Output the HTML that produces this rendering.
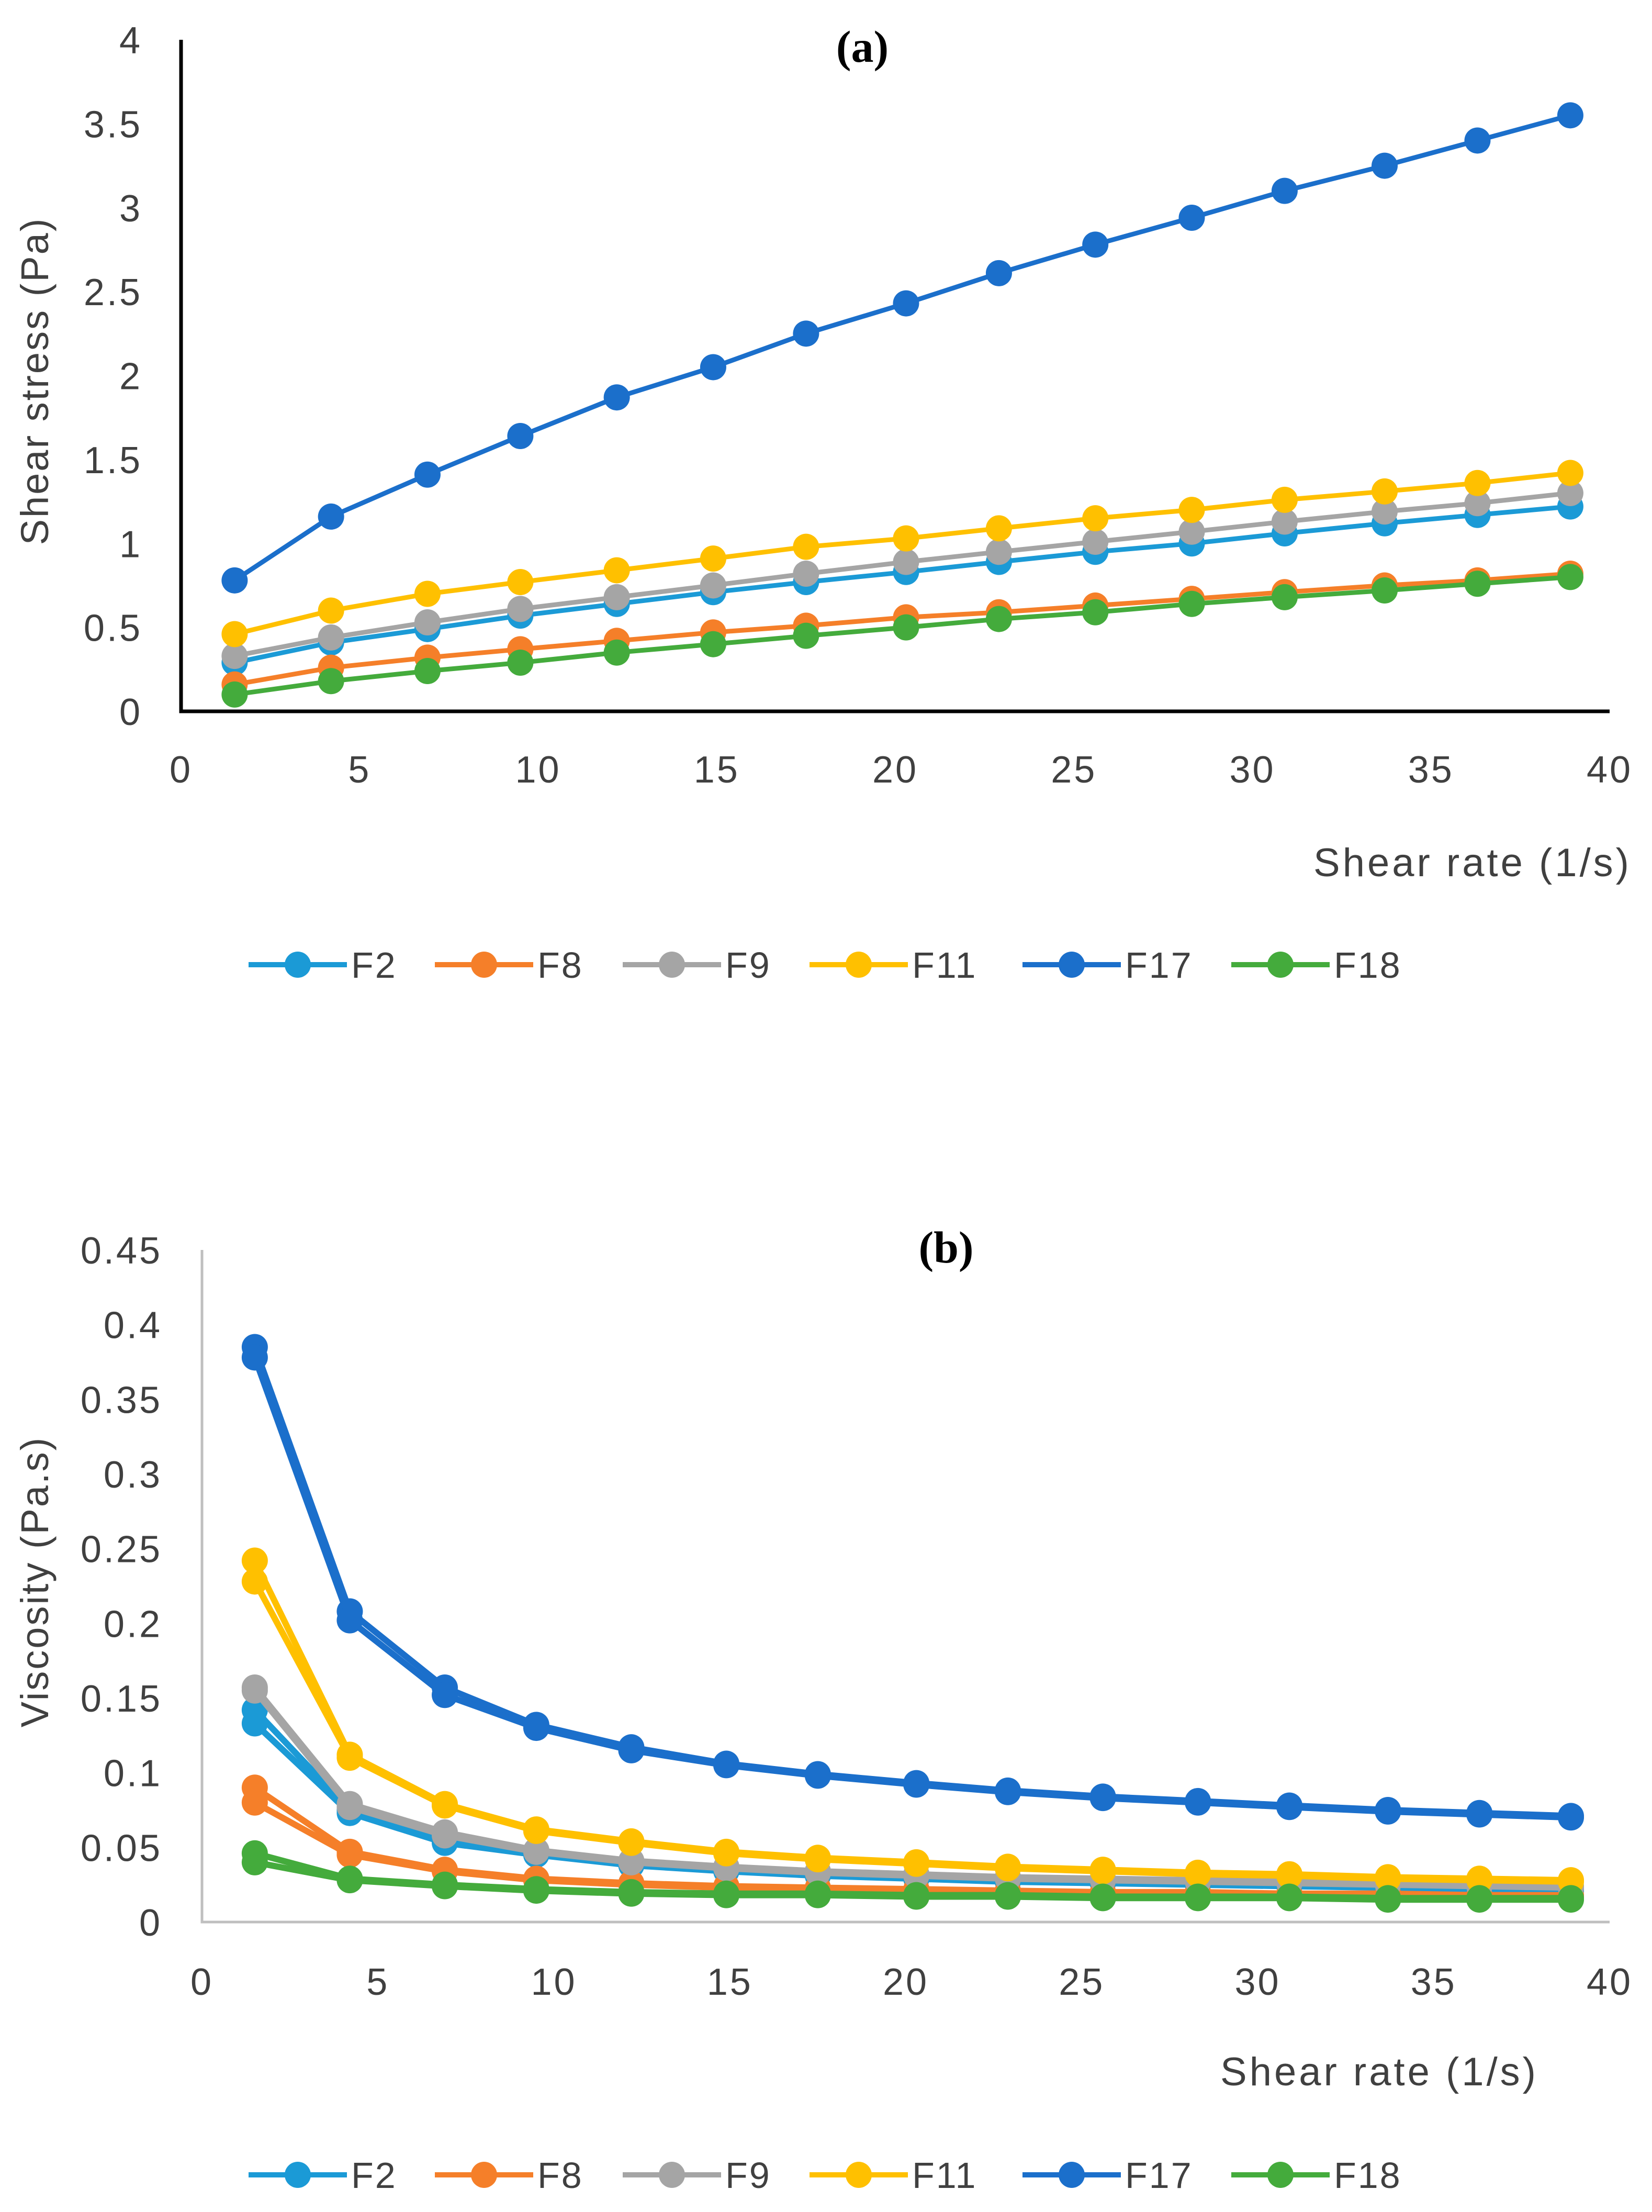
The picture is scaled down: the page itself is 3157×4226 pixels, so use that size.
<!DOCTYPE html>
<html><head><meta charset="utf-8"><style>
html,body{margin:0;padding:0;background:#fff;}
svg{display:block;}
text{font-family:"Liberation Sans",sans-serif;fill:#404040;}
</style></head><body>
<svg id="fig" width="3157" height="4226" viewBox="0 0 3157 4226" xmlns="http://www.w3.org/2000/svg"></svg>
<script>
const shearRate=[1.5,4.2,6.9,9.5,12.2,14.9,17.5,20.3,22.9,25.6,28.3,30.9,33.7,36.3,38.9];
const seriesNames=["F2","F8","F9","F11","F17","F18"];
const seriesColors=["#1b9ad6","#f57f29","#a5a5a5","#ffc000","#1b6fcb","#44ab3c"];
const stressF2=[0.29,0.41,0.49,0.57,0.64,0.71,0.77,0.83,0.89,0.95,1.00,1.06,1.12,1.17,1.22];
const stressF8=[0.16,0.26,0.32,0.37,0.42,0.47,0.51,0.56,0.59,0.63,0.67,0.71,0.75,0.78,0.82];
const stressF9=[0.33,0.44,0.53,0.61,0.68,0.75,0.82,0.89,0.95,1.01,1.07,1.13,1.19,1.24,1.30];
const stressF11=[0.46,0.60,0.70,0.77,0.84,0.91,0.98,1.03,1.09,1.15,1.20,1.26,1.31,1.36,1.42];
const stressF17=[0.78,1.16,1.41,1.64,1.87,2.05,2.25,2.43,2.61,2.78,2.94,3.10,3.25,3.40,3.55];
const stressF18=[0.10,0.18,0.24,0.29,0.35,0.40,0.45,0.50,0.55,0.59,0.64,0.68,0.72,0.76,0.80];
const viscF2a=[0.142,0.075,0.055,0.046,0.039,0.035,0.032,0.030,0.028,0.027,0.026,0.025,0.024,0.023,0.022];
const viscF2b=[0.133,0.073,0.053,0.045,0.038,0.034,0.031,0.029,0.027,0.026,0.025,0.024,0.023,0.022,0.021];
const viscF8a=[0.090,0.047,0.035,0.029,0.026,0.024,0.023,0.022,0.021,0.020,0.020,0.019,0.019,0.018,0.018];
const viscF8b=[0.080,0.045,0.034,0.028,0.025,0.023,0.022,0.021,0.020,0.019,0.019,0.018,0.018,0.017,0.017];
const viscF9a=[0.157,0.079,0.060,0.048,0.041,0.037,0.034,0.032,0.030,0.029,0.028,0.027,0.026,0.025,0.024];
const viscF9b=[0.155,0.077,0.058,0.047,0.040,0.036,0.033,0.031,0.029,0.028,0.027,0.026,0.025,0.024,0.023];
const viscF11a=[0.242,0.112,0.079,0.062,0.054,0.047,0.043,0.040,0.037,0.035,0.033,0.032,0.030,0.029,0.028];
const viscF11b=[0.228,0.110,0.078,0.061,0.053,0.046,0.042,0.039,0.036,0.034,0.032,0.031,0.029,0.028,0.027];
const viscF17a=[0.385,0.208,0.157,0.132,0.117,0.106,0.099,0.093,0.088,0.084,0.081,0.078,0.075,0.073,0.071];
const viscF17b=[0.378,0.202,0.152,0.130,0.115,0.105,0.098,0.092,0.087,0.083,0.080,0.077,0.074,0.072,0.070];
const viscF18a=[0.046,0.029,0.025,0.022,0.020,0.019,0.019,0.018,0.018,0.017,0.017,0.017,0.016,0.016,0.016];
const viscF18b=[0.040,0.028,0.024,0.021,0.019,0.018,0.018,0.017,0.017,0.016,0.016,0.016,0.015,0.015,0.015];
const xTicks=[0,5,10,15,20,25,30,35,40];
const yTicksA=[0,0.5,1,1.5,2,2.5,3,3.5,4];
const yTicksB=[0,0.05,0.1,0.15,0.2,0.25,0.3,0.35,0.4,0.45];

const NS="http://www.w3.org/2000/svg";
const svg=document.getElementById('fig');
function mk(tag,attrs,parent){const e=document.createElementNS(NS,tag);for(const k in attrs)e.setAttribute(k,attrs[k]);(parent||svg).appendChild(e);return e;}

function chart(cfg){
  const g=mk('g',{});
  
  
  const xs=v=>cfg.x0+(v-0)/40*(cfg.x1-cfg.x0);
  const ys=v=>cfg.y0-(v/cfg.ymax)*(cfg.y0-cfg.y1);
  const ya=mk('line',{x1:cfg.x0,y1:cfg.y1,x2:cfg.x0,y2:cfg.y0,stroke:cfg.axisColor,'stroke-width':cfg.axisW},g);
  
  
  const xa=mk('line',{x1:cfg.x0-cfg.axisW/2,y1:cfg.y0,x2:cfg.x1,y2:cfg.y0,stroke:cfg.axisColor,'stroke-width':cfg.axisW},g);
  
  
  cfg.yTicks.forEach(v=>{
    const t=mk('text',{x:cfg.yLabelX,y:ys(v)+26,'text-anchor':'end','font-size':72,'letter-spacing':4},g);
    t.textContent=String(v);
    
    
  });
  xTicks.forEach(v=>{
    const t=mk('text',{x:xs(v),y:cfg.xLabelY,'text-anchor':'middle','font-size':72,'letter-spacing':4},g);
    t.textContent=String(v);
    
    
  });
  const yt=mk('text',{x:0,y:0,'text-anchor':'middle','font-size':74,'letter-spacing':3,transform:`translate(${cfg.yTitleX},${cfg.yTitleY}) rotate(-90)`},g);
  yt.textContent=cfg.yTitle;
  
  
  const xt=mk('text',{x:cfg.xTitleX,y:cfg.xTitleY,'text-anchor':'end','font-size':76,'letter-spacing':5},g);
  xt.textContent='Shear rate (1/s)';
  
  
  const pt=mk('text',{x:cfg.panelX,y:cfg.panelY,'text-anchor':'middle','font-size':86,'font-weight':'bold'},g);
  pt.style.fontFamily='"Liberation Serif",serif';
  pt.style.fill='#000';
  pt.textContent=cfg.panel;
  
  
  cfg.series.forEach((s,i)=>{
    s.data.forEach(arr=>{
      const sg=mk('g',{},g);
      
      
      const pts=arr.map((v,j)=>xs(shearRate[j]).toFixed(1)+','+ys(v).toFixed(1)).join(' ');
      const pl=mk('polyline',{points:pts,fill:'none',stroke:seriesColors[i],'stroke-width':cfg.lineW,'stroke-linejoin':'round'},sg);
      
      
      arr.forEach((v,j)=>{
        const c=mk('circle',{cx:xs(shearRate[j]),cy:ys(v),r:25,fill:seriesColors[i]},sg);
        
        
      });
    });
  });
  const lx=[475,831,1190,1547,1954,2353];
  const lg=mk('g',{},g);
  
  
  seriesNames.forEach((n,i)=>{
    const eg=mk('g',{},lg);
    
    
    mk('line',{x1:lx[i],y1:cfg.legendY,x2:lx[i]+188,y2:cfg.legendY,stroke:seriesColors[i],'stroke-width':10},eg);
    mk('circle',{cx:lx[i]+94,cy:cfg.legendY,r:25,fill:seriesColors[i]},eg);
    const t=mk('text',{x:lx[i]+196,y:cfg.legendY+25,'font-size':70,'letter-spacing':3},eg);
    t.textContent=n;
  });
}

chart({name:'chart-a-shear-stress',x0:346,x1:3076,y0:1359,y1:76,ymax:4,yTicks:yTicksA,axisColor:'#000',axisW:7,
  yLabelX:272,xLabelY:1495,yTitle:'Shear stress (Pa)',yTitleX:92,yTitleY:728,xTitleX:3118,xTitleY:1674,
  panel:'(a)',panelX:1648,panelY:118,legendY:1843,lineW:9,
  series:[{data:[stressF2]},{data:[stressF8]},{data:[stressF9]},{data:[stressF11]},{data:[stressF17]},{data:[stressF18]}]});
chart({name:'chart-b-viscosity',x0:386,x1:3076,y0:3672,y1:2388,ymax:0.45,yTicks:yTicksB,axisColor:'#bfbfbf',axisW:5,
  yLabelX:310,xLabelY:3811,yTitle:'Viscosity (Pa.s)',yTitleX:92,yTitleY:3022,xTitleX:2940,xTitleY:3984,
  panel:'(b)',panelX:1808,panelY:2412,legendY:4155,lineW:12,
  series:[{data:[viscF2a,viscF2b]},{data:[viscF8a,viscF8b]},{data:[viscF9a,viscF9b]},{data:[viscF11a,viscF11b]},{data:[viscF17a,viscF17b]},{data:[viscF18a,viscF18b]}]});
</script>
</body></html>
